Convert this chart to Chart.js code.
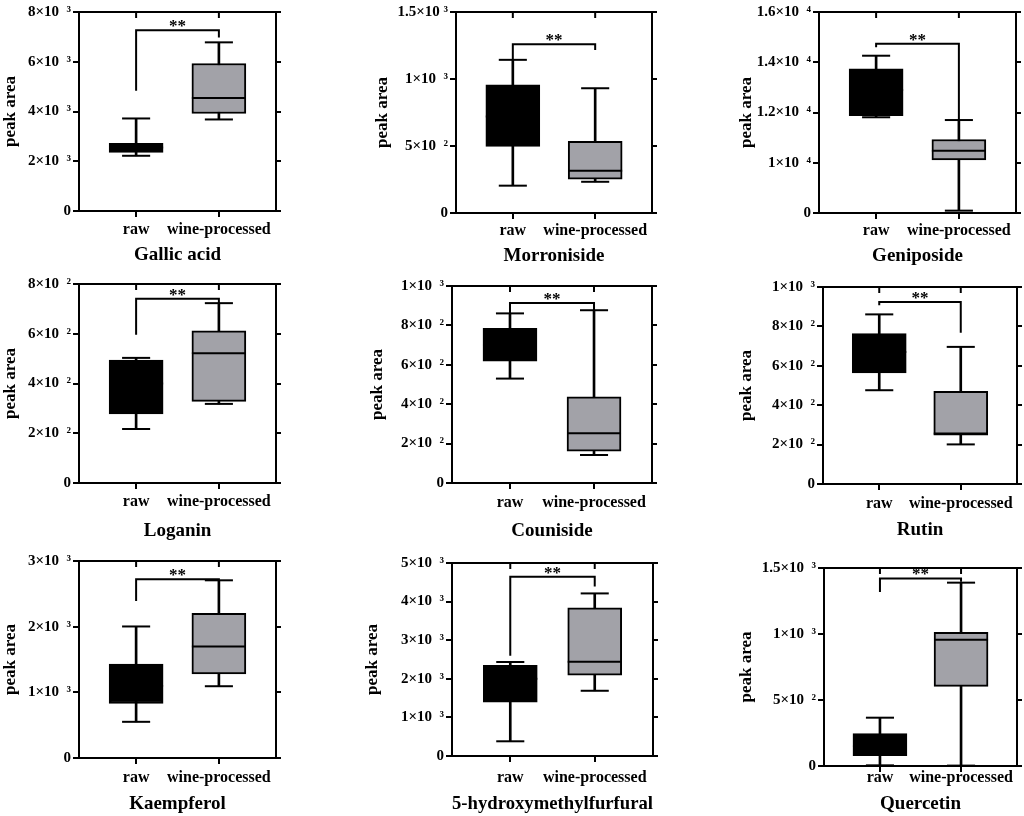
<!DOCTYPE html>
<html>
<head>
<meta charset="utf-8">
<script src="https://cdn.jsdelivr.net/npm/chart.js@4.4.1/dist/chart.umd.min.js"></script>
<style>
  html, body { margin: 0; padding: 0; background: #fff; }
  body { position: relative; width: 1024px; height: 816px; overflow: hidden; }
  .panel { position: absolute; }
</style>
</head>
<body>
<script>
// compounds and groups
const compounds = ['Gallic acid', 'Morroniside', 'Geniposide', 'Loganin', 'Couniside', 'Rutin',
                   'Kaempferol', '5-hydroxymethylfurfural', 'Quercetin'];
const groups = ['raw', 'wine-processed'];
const yTitle = 'peak area';
const signif = '**';

// y tick values (Geniposide has a broken axis: 0 then 1.0 - 1.6 x10^4)
const tickValues = [
  [0, 2000, 4000, 6000, 8000],
  [0, 500, 1000, 1500],
  [0, 10000, 12000, 14000, 16000],
  [0, 200, 400, 600, 800],
  [0, 200, 400, 600, 800, 1000],
  [0, 200, 400, 600, 800, 1000],
  [0, 1000, 2000, 3000],
  [0, 1000, 2000, 3000, 4000, 5000],
  [0, 500, 1000, 1500]
];
const tickLabels = [
  ['0', '2×10  ³', '4×10  ³', '6×10  ³', '8×10  ³'],
  ['0', '5×10  ²', '1×10  ³', '1.5×10 ³'],
  ['0', '1×10  ⁴', '1.2×10  ⁴', '1.4×10  ⁴', '1.6×10  ⁴'],
  ['0', '2×10  ²', '4×10  ²', '6×10  ²', '8×10  ²'],
  ['0', '2×10  ²', '4×10  ²', '6×10  ²', '8×10  ²', '1×10  ³'],
  ['0', '2×10  ²', '4×10  ²', '6×10  ²', '8×10  ²', '1×10  ³'],
  ['0', '1×10  ³', '2×10  ³', '3×10  ³'],
  ['0', '1×10  ³', '2×10  ³', '3×10  ³', '4×10  ³', '5×10  ³'],
  ['0', '5×10  ²', '1×10  ³', '1.5×10  ³']
];

// [min, q1, median, q3, max]
const rawStats = [
  [2220, 2360, 2550, 2720, 3720],
  [204, 497, 720, 956, 1143],
  [11810, 11878, 12900, 13739, 14260],
  [217, 278, 400, 494, 503],
  [530, 618, 700, 785, 861],
  [476, 564, 670, 763, 861],
  [551, 830, 1100, 1431, 2003],
  [381, 1395, 2000, 2349, 2435],
  [5, 78, 150, 245, 366]
];
const wineStats = [
  [3680, 3920, 4540, 5930, 6780],
  [233, 253, 315, 534, 931],
  [467, 10109, 10476, 10925, 11700],
  [318, 328, 522, 612, 723],
  [142, 162, 253, 437, 877],
  [201, 248, 256, 471, 696],
  [1093, 1280, 1699, 2205, 2706],
  [1690, 2097, 2444, 3839, 4212],
  [3, 603, 957, 1012, 1389]
];

// significance bracket: top, left leg end, right leg end
const bracketTop   = [7270, 1259, 14740, 741, 914, 924, 2721, 4645, 1421];
const bracketLeft  = [4830, 1143, 14600, 596, 861, 907, 2392, 2600, 1318];
const bracketRight = [6975, 1217, 11700, 723, 877, 768, 2706, 4394, 1395];

// page layout: [yTitleX, plotLeft, plotTop, plotRight, plotBottom, xLabelY, titleY]
const panelLayout = [
  [10, 79, 12, 276, 211, 229, 254],
  [382, 456, 12, 652, 213, 230, 255],
  [746, 819, 12, 1016, 213, 230, 255],
  [10, 79, 284, 276, 483, 501, 530],
  [377, 452, 286, 652, 483, 502, 530],
  [746, 823, 287, 1017, 484, 503, 529],
  [10, 79, 561, 276, 758, 777, 803],
  [372, 452, 563, 653, 756, 777, 803],
  [746, 824, 568, 1017, 766, 777, 803]
];

const SERIF = '"Liberation Serif", "Times New Roman", serif';
const RAW_FILL = '#000000';
const WINE_FILL = '#a2a2a8';
const X_MIN = -0.69, X_MAX = 1.69;

function toAxis(v, ticks) {
  for (let i = 1; i < ticks.length; i++) {
    if (v <= ticks[i] || i === ticks.length - 1) {
      return (i - 1) + (v - ticks[i - 1]) / (ticks[i] - ticks[i - 1]);
    }
  }
  return 0;
}

function seg(ctx, x1, y1, x2, y2) {
  ctx.beginPath();
  ctx.moveTo(x1, y1);
  ctx.lineTo(x2, y2);
  ctx.stroke();
}

const boxExtras = {
  id: 'boxExtras',
  afterDatasetsDraw(chart, args, opts) {
    const { ctx, chartArea, scales: { x, y } } = chart;
    const boxes = chart.getDatasetMeta(0).data;
    ctx.save();
    ctx.strokeStyle = '#000';
    ctx.lineWidth = 2;
    opts.stats.forEach((s, i) => {
      const cx = x.getPixelForValue(i);
      const bw = boxes[i].width;
      const cw = bw * 0.52;
      const yMin = y.getPixelForValue(s[0]);
      const yMax = y.getPixelForValue(s[4]);
      seg(ctx, cx - cw / 2, yMin, cx + cw / 2, yMin);
      seg(ctx, cx - cw / 2, yMax, cx + cw / 2, yMax);
      const yMed = y.getPixelForValue(s[2]);
      seg(ctx, cx - bw / 2, yMed, cx + bw / 2, yMed);
    });

    // bracket + stars
    const xl = x.getPixelForValue(0), xr = x.getPixelForValue(1);
    const yt = y.getPixelForValue(opts.bracket[0]);
    ctx.beginPath();
    ctx.moveTo(xl, y.getPixelForValue(opts.bracket[1]));
    ctx.lineTo(xl, yt);
    ctx.lineTo(xr, yt);
    ctx.lineTo(xr, y.getPixelForValue(opts.bracket[2]));
    ctx.stroke();
    ctx.fillStyle = '#000';
    ctx.font = 'bold 17px ' + SERIF;
    ctx.textAlign = 'center';
    ctx.textBaseline = 'alphabetic';
    ctx.fillText(signif, (xl + xr) / 2, yt + 1);

    // inward ticks on the top border
    groups.forEach((g, i) => {
      const tx = x.getPixelForValue(i);
      seg(ctx, tx, chartArea.top, tx, chartArea.top + 6);
    });
    ctx.restore();
  }
};

function makePanel(k) {
  const [titleX, pl, pt, pr, pb, labelY, titleY] = panelLayout[k];
  const left = titleX - 10;
  const top = pt - 12;
  const bottom = titleY + 12;
  const w = pr - left + 10;
  const h = bottom - top;

  const div = document.createElement('div');
  div.className = 'panel';
  div.style.left = left + 'px';
  div.style.top = top + 'px';
  div.style.width = w + 'px';
  div.style.height = h + 'px';
  const cv = document.createElement('canvas');
  div.appendChild(cv);
  document.body.appendChild(div);

  const tv = tickValues[k];
  const stats = [rawStats[k], wineStats[k]].map(s => s.map(v => toAxis(v, tv)));
  const bracket = [bracketTop[k], bracketLeft[k], bracketRight[k]].map(v => toAxis(v, tv));
  const yTicks = s => { s.ticks = tv.map((_, i) => ({ value: i })); };
  const axisBorder = { color: '#000', width: 2 };

  new Chart(cv, {
    type: 'bar',
    data: {
      datasets: [
        {
          label: 'box',
          xAxisID: 'x', yAxisID: 'y',
          data: stats.map((s, i) => ({ x: i, y: [s[1], s[3]] })),
          backgroundColor: [RAW_FILL, WINE_FILL],
          borderColor: '#000',
          borderWidth: 2,
          borderSkipped: false,
          barThickness: 54
        },
        {
          label: 'whisker',
          xAxisID: 'x', yAxisID: 'y',
          data: stats.map((s, i) => ({ x: i, y: [s[0], s[4]] })),
          backgroundColor: '#000',
          borderWidth: 0,
          barThickness: 2
        }
      ]
    },
    options: {
      responsive: true,
      maintainAspectRatio: false,
      animation: false,
      layout: { padding: 0 },
      plugins: {
        legend: { display: false },
        tooltip: { enabled: false },
        boxExtras: { stats, bracket }
      },
      scales: {
        x: {
          type: 'linear', position: 'bottom', stacked: true, offset: false,
          min: X_MIN, max: X_MAX,
          afterBuildTicks: s => { s.ticks = groups.map((g, i) => ({ value: i })); },
          afterFit: s => { s.height = bottom - pb; },
          border: axisBorder,
          grid: { drawOnChartArea: false, offset: false, color: '#000', lineWidth: 2, tickLength: 6 },
          ticks: {
            color: '#000', padding: labelY - pb - 15, maxRotation: 0, autoSkip: false,
            font: { family: SERIF, size: 16, weight: 'bold' },
            callback: v => groups[v]
          },
          title: {
            display: true, text: compounds[k], color: '#000', padding: 0,
            font: { family: SERIF, size: 19, weight: 'bold' }
          }
        },
        xTop: {
          type: 'linear', position: 'top', min: X_MIN, max: X_MAX, offset: false,
          afterFit: s => { s.height = 12; },
          border: axisBorder,
          grid: { display: false },
          ticks: { display: false }
        },
        y: {
          type: 'linear', position: 'left', min: 0, max: tv.length - 1,
          afterBuildTicks: yTicks,
          afterFit: s => { s.width = pl - left; },
          border: axisBorder,
          grid: { drawOnChartArea: false, color: '#000', lineWidth: 2, tickLength: 6 },
          ticks: {
            color: '#000', padding: 2,
            font: { family: SERIF, size: 15, weight: 'bold' },
            callback: v => tickLabels[k][v]
          },
          title: {
            display: true, text: yTitle, color: '#000', padding: 0,
            font: { family: SERIF, size: 17, weight: 'bold' }
          }
        },
        yRight: {
          type: 'linear', position: 'right', min: 0, max: tv.length - 1,
          afterBuildTicks: yTicks,
          afterFit: s => { s.width = 10; },
          border: axisBorder,
          grid: { drawOnChartArea: false, color: '#000', lineWidth: 2, tickLength: 5 },
          ticks: { display: false }
        }
      }
    },
    plugins: [boxExtras]
  });
}

compounds.forEach((c, k) => makePanel(k));
</script>
</body>
</html>
